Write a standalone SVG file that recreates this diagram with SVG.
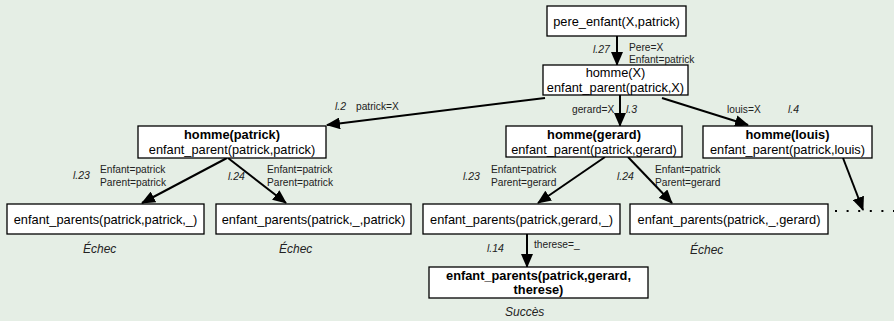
<svg xmlns="http://www.w3.org/2000/svg" width="894" height="321" viewBox="0 0 894 321">
<defs>
<marker id="ah" markerUnits="userSpaceOnUse" markerWidth="14" markerHeight="12" viewBox="0 0 14 12" refX="13" refY="6" orient="auto">
<path d="M0,0 L14,6 L0,12 Z" fill="#000"/>
</marker>
<style>
.box{fill:#fff;stroke:#000;stroke-width:1.3}
.t{font-family:"Liberation Sans",Arial,sans-serif;font-size:12.8px;fill:#000;text-anchor:middle}
.b{font-weight:bold}
.s{font-family:"Liberation Sans",Arial,sans-serif;font-size:10.2px;fill:#222}
.i{font-family:"Liberation Sans",Arial,sans-serif;font-size:10.5px;font-style:italic;fill:#222}
.r{font-family:"Liberation Sans",Arial,sans-serif;font-size:12px;font-style:italic;fill:#222}
.c{stroke:#000;stroke-width:2;fill:none;marker-end:url(#ah)}
</style>
</defs>
<rect width="894" height="321" fill="#e5eee5"/>
<g id="connectors">
<line class="c" x1="617" y1="36" x2="617" y2="65"/>
<line class="c" x1="545" y1="98" x2="327" y2="125"/>
<line class="c" x1="620" y1="95" x2="620" y2="126"/>
<line class="c" x1="662" y1="98" x2="748" y2="125"/>
<line class="c" x1="227" y1="158" x2="142" y2="203"/>
<line class="c" x1="228" y1="158" x2="286" y2="203"/>
<line class="c" x1="605" y1="157" x2="538" y2="203"/>
<line class="c" x1="628" y1="157" x2="672" y2="203"/>
<line class="c" x1="843" y1="158" x2="863" y2="210"/>
<line class="c" x1="527" y1="234" x2="527" y2="267"/>
<line x1="835" y1="211" x2="894" y2="211" stroke="#000" stroke-width="2" stroke-dasharray="2 9.6"/>
</g>
<g id="labels">
<text class="i" x="593" y="53">l.27</text>
<text class="s" x="629" y="51">Pere=X</text>
<text class="s" x="629" y="63">Enfant=patrick</text>
<text class="i" x="335" y="110">l.2</text>
<text class="s" x="356" y="110">patrick=X</text>
<text class="s" x="572" y="113">gerard=X</text>
<text class="i" x="626" y="113">l.3</text>
<text class="s" x="727" y="113">louis=X</text>
<text class="i" x="788" y="113">l.4</text>
<text class="i" x="73" y="179">l.23</text>
<text class="s" x="100" y="173">Enfant=patrick</text>
<text class="s" x="100" y="186">Parent=patrick</text>
<text class="i" x="228" y="180">l.24</text>
<text class="s" x="267" y="173">Enfant=patrick</text>
<text class="s" x="267" y="186">Parent=patrick</text>
<text class="i" x="463" y="180">l.23</text>
<text class="s" x="491" y="173">Enfant=patrick</text>
<text class="s" x="491" y="186">Parent=gerard</text>
<text class="i" x="617" y="180">l.24</text>
<text class="s" x="655" y="173">Enfant=patrick</text>
<text class="s" x="655" y="186">Parent=gerard</text>
<text class="i" x="487" y="252">l.14</text>
<text class="s" x="534" y="248">therese=_</text>
<text class="r" x="83" y="253">Échec</text>
<text class="r" x="279" y="253">Échec</text>
<text class="r" x="690" y="254">Échec</text>
<text class="r" x="505" y="316">Succès</text>
</g>
<g id="n-root">
<rect class="box" x="547" y="6" width="139" height="30"/>
<text class="t" x="616.5" y="26">pere_enfant(X,patrick)</text>
</g>
<g id="n-hommeX">
<rect class="box" x="543" y="65" width="145" height="30"/>
<text class="t" x="615.5" y="77">homme(X)</text>
<text class="t" x="615.5" y="91.5">enfant_parent(patrick,X)</text>
</g>
<g id="n-patrick">
<rect class="box" x="138" y="126" width="188" height="32"/>
<text class="t b" x="232" y="139">homme(patrick)</text>
<text class="t" x="232" y="153.5">enfant_parent(patrick,patrick)</text>
</g>
<g id="n-gerard">
<rect class="box" x="506" y="126" width="176" height="31"/>
<text class="t b" x="594" y="139">homme(gerard)</text>
<text class="t" x="594" y="153.5">enfant_parent(patrick,gerard)</text>
</g>
<g id="n-louis">
<rect class="box" x="703" y="126" width="169" height="32"/>
<text class="t b" x="787.5" y="139">homme(louis)</text>
<text class="t" x="787.5" y="153.5">enfant_parent(patrick,louis)</text>
</g>
<g id="n-b1">
<rect class="box" x="7" y="204" width="197" height="30"/>
<text class="t" x="105.5" y="223.5">enfant_parents(patrick,patrick,_)</text>
</g>
<g id="n-b2">
<rect class="box" x="216" y="204" width="195" height="30"/>
<text class="t" x="313.5" y="223.5">enfant_parents(patrick,_,patrick)</text>
</g>
<g id="n-b3">
<rect class="box" x="423" y="204" width="197" height="30"/>
<text class="t" x="521.5" y="223.5">enfant_parents(patrick,gerard,_)</text>
</g>
<g id="n-b4">
<rect class="box" x="630" y="204" width="198" height="30"/>
<text class="t" x="729" y="223.5">enfant_parents(patrick,_,gerard)</text>
</g>
<g id="n-success">
<rect class="box" x="429" y="267" width="219" height="31"/>
<text class="t b" x="538.5" y="279.5">enfant_parents(patrick,gerard,</text>
<text class="t b" x="538.5" y="294">therese)</text>
</g>
</svg>
